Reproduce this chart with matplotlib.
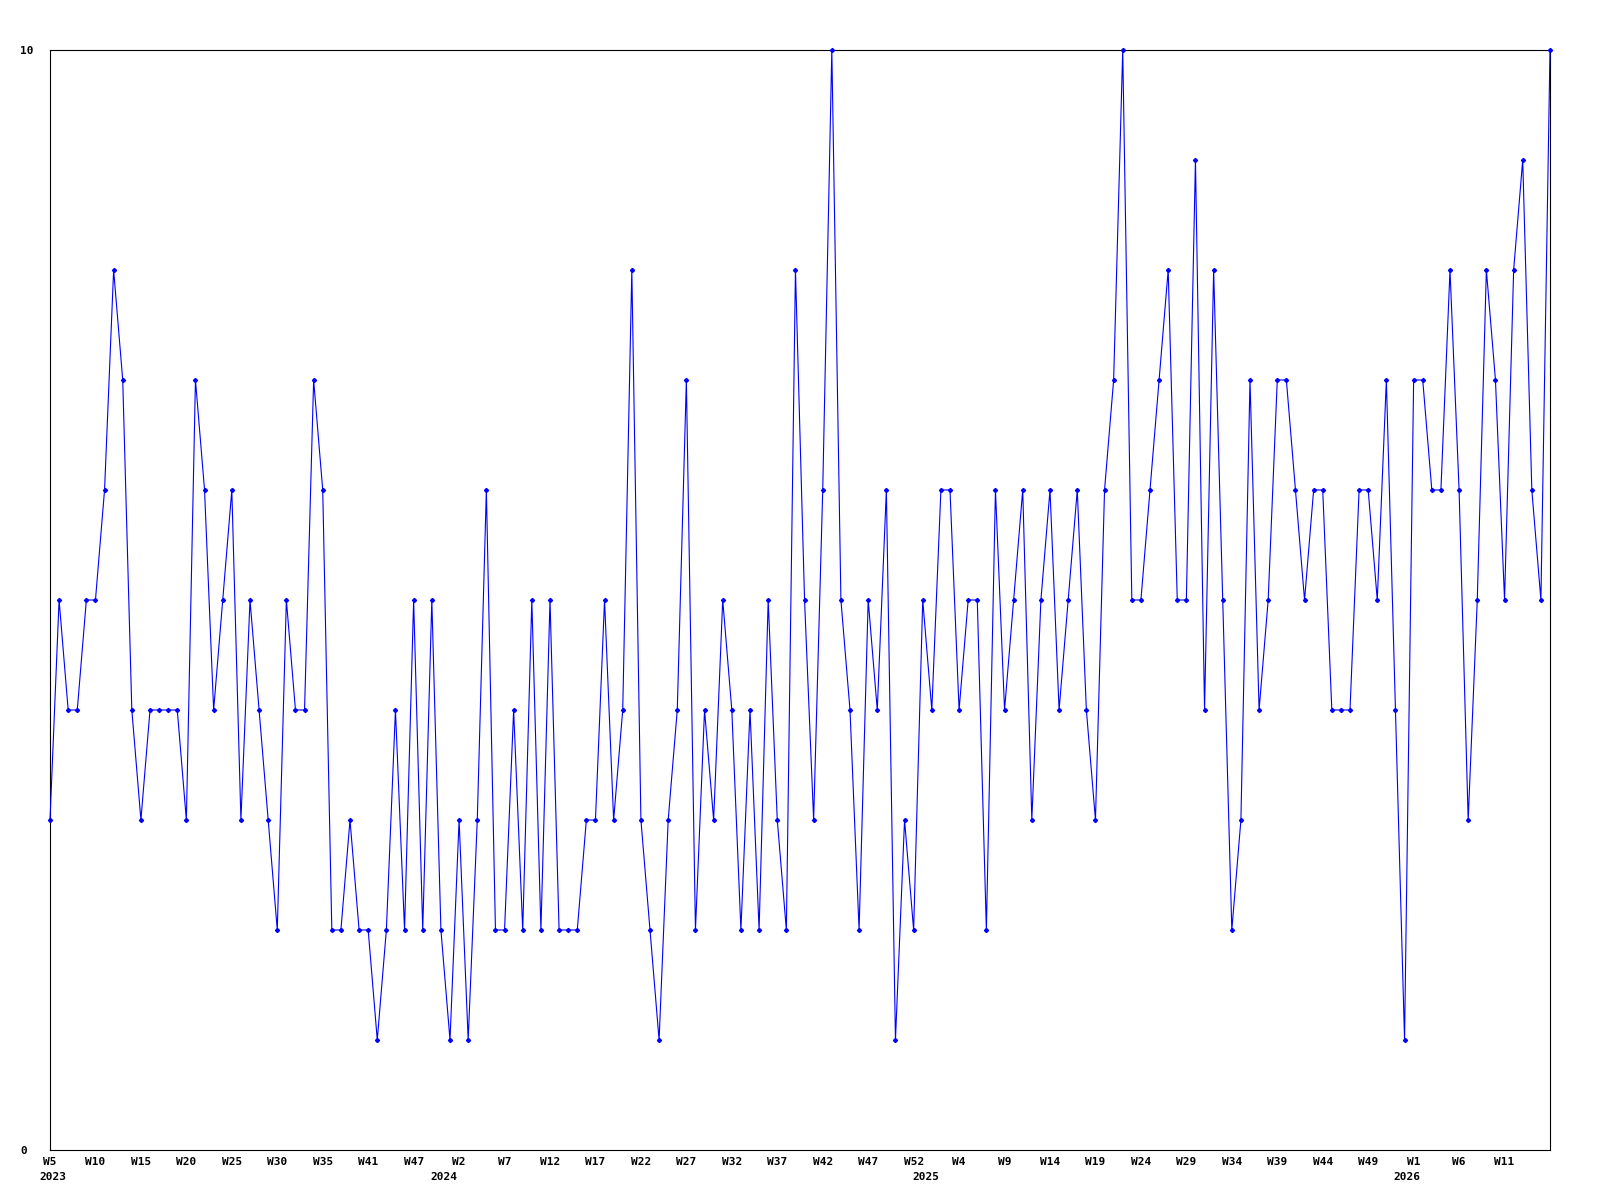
import matplotlib
matplotlib.use("Agg")
import matplotlib.pyplot as plt
import matplotlib.transforms as mtransforms

# weekly values, W5 2023 .. W15 2026
values = [3, 5, 4, 4, 5, 5, 6, 8, 7, 4, 3, 4, 4, 4, 4, 3, 7, 6, 4, 5, 6, 3,
          5, 4, 3, 2, 5, 4, 4, 7, 6, 2, 2, 3, 2, 2, 1, 2, 4, 2, 5, 2, 5,
          2, 1, 3, 1, 3, 6, 2, 2, 4, 2, 5, 2, 5, 2, 2, 2, 3, 3, 5, 3, 4,
          8, 3, 2, 1, 3, 4, 7, 2, 4, 3, 5, 4, 2, 4, 2, 5, 3, 2, 8, 5, 3,
          6, 10, 5, 4, 2, 5, 4, 6, 1, 3, 2, 5, 4, 6, 6, 4, 5, 5, 2, 6, 4,
          5, 6, 3, 5, 6, 4, 5, 6, 4, 3, 6, 7, 10, 5, 5, 6, 7, 8, 5, 5,
          9, 4, 8, 5, 2, 3, 7, 4, 5, 7, 7, 6, 5, 6, 6, 4, 4, 4, 6, 6, 5,
          7, 4, 1, 7, 7, 6, 6, 8, 6, 3, 5, 8, 7, 5, 8, 9, 6, 5, 10]

week_labels = ["W5", "W10", "W15", "W20", "W25", "W30", "W35", "W41", "W47",
               "W2", "W7", "W12", "W17", "W22", "W27", "W32", "W37", "W42",
               "W47", "W52", "W4", "W9", "W14", "W19", "W24", "W29", "W34",
               "W39", "W44", "W49", "W1", "W6", "W11"]

years = ["2023", "2024", "2025", "2026"]
year_x = [0.3, 43.3, 96.3, 149.3]

mono = "DejaVu Sans Mono"

fig = plt.figure(figsize=(16, 12), dpi=100)
ax = fig.add_axes([0.03125, 0.04167, 0.9375, 0.91667])

x = list(range(len(values)))
ax.plot(x, values, color="#0000ff", lw=0.8, marker="D", ms=2.1,
        mfc="#0000ff", mec="#0000ff", clip_on=False, zorder=3)

ax.set_xlim(0, len(values) - 1)
ax.set_ylim(0, 10)

ax.set_xticks(range(0, 5 * len(week_labels), 5))
ax.set_xticklabels(week_labels, family=mono, fontsize=8, fontweight="bold")
ax.set_yticks([0, 10])
ax.set_yticklabels(["0", "10"], family=mono, fontsize=8, fontweight="bold",
                   ha="left")
ax.tick_params(axis="x", length=0, pad=5)
ax.tick_params(axis="y", length=0, pad=21.5)

for s in ax.spines.values():
    s.set_linewidth(0.8)
    s.set_color("black")

trans = mtransforms.blended_transform_factory(ax.transData, ax.transAxes)
for yr, xp in zip(years, year_x):
    ax.text(xp, -0.0245, yr, transform=trans, ha="center", va="center",
            family=mono, fontsize=8, fontweight="bold")

fig.savefig("out.png", dpi=100)
